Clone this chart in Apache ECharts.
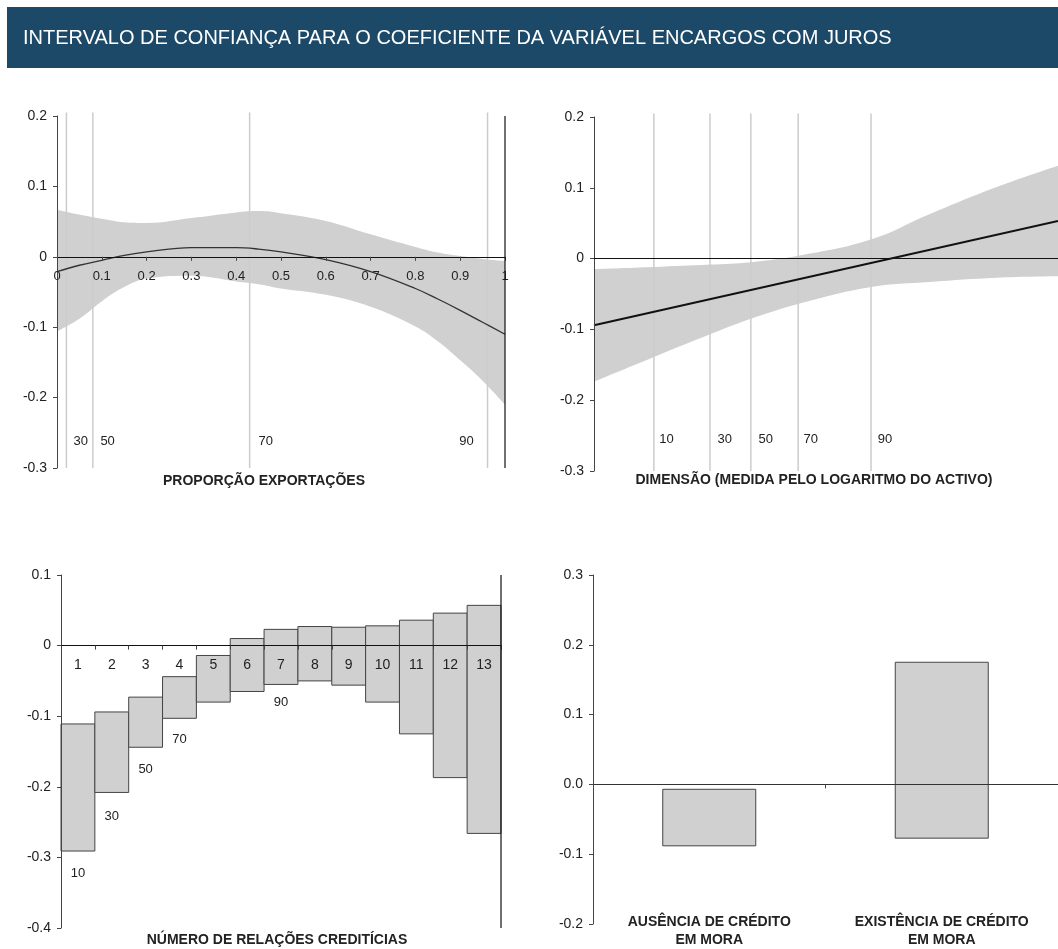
<!DOCTYPE html>
<html>
<head>
<meta charset="utf-8">
<script src="https://cdn.jsdelivr.net/npm/echarts/dist/echarts.min.js"></script>
<style>
  html, body { margin: 0; padding: 0; background: #fff; }
  #chart { width: 1058px; height: 949px; }
</style>
</head>
<body>
<div id="chart"></div>
<script>
// top-left: proporção exportações
const expX = [0, 0.05, 0.1, 0.15, 0.2, 0.3, 0.4, 0.45, 0.5, 0.6, 0.7, 0.8, 0.85, 0.9, 0.95, 1.0];
const expUpper = [0.067, 0.060, 0.054, 0.049, 0.048, 0.055, 0.063, 0.065, 0.062, 0.051, 0.032, 0.014, 0.006, 0.001, -0.003, -0.006];
const expLower = [-0.106, -0.088, -0.063, -0.043, -0.031, -0.027, -0.035, -0.039, -0.045, -0.054, -0.071, -0.099, -0.120, -0.147, -0.176, -0.210];
const expCoef = [-0.021, -0.012, -0.005, 0.002, 0.007, 0.013, 0.013, 0.011, 0.007, -0.004, -0.021, -0.045, -0.060, -0.076, -0.093, -0.110];
const expPctLines = [0.021, 0.08, 0.43, 0.961];
const expPctLabels = ['30', '50', '70', '90'];
const expPctLabelX = [0.053, 0.113, 0.466, 0.914];
const expPctLabelY = -0.262;

// top-right: dimensão
const dimX = [0, 0.129, 0.25, 0.338, 0.44, 0.597, 0.724, 0.868, 1.0];
const dimUpper = [-0.015, -0.012, -0.0085, -0.005, 0.004, 0.027, 0.063, 0.101, 0.131];
const dimLower = [-0.174, -0.139, -0.107, -0.085, -0.064, -0.040, -0.033, -0.027, -0.025];
const dimLineX = [0, 1];
const dimCoef = [-0.094, 0.053];
const dimPctLines = [0.129, 0.25, 0.338, 0.44, 0.597];
const dimPctLabels = ['10', '30', '50', '70', '90'];
const dimPctLabelX = [0.156, 0.282, 0.370, 0.467, 0.627];
const dimPctLabelY = -0.256;

// bottom-left: número de relações creditícias
const relCats = ['1', '2', '3', '4', '5', '6', '7', '8', '9', '10', '11', '12', '13'];
const relLow = [-0.291, -0.208, -0.144, -0.103, -0.080, -0.065, -0.055, -0.050, -0.056, -0.080, -0.125, -0.187, -0.266];
const relHigh = [-0.111, -0.094, -0.073, -0.044, -0.014, 0.010, 0.023, 0.027, 0.026, 0.028, 0.036, 0.046, 0.057];
const relPctLabels = ['10', '30', '50', '70', '90'];
const relPctCat = [0, 1, 2, 3, 6];
const relPctY = [-0.322, -0.242, -0.175, -0.1325, -0.080];

// bottom-right: crédito em mora
const moraCats = ['AUSÊNCIA DE CRÉDITO\nEM MORA', 'EXISTÊNCIA DE CRÉDITO\nEM MORA'];
const moraLow = [-0.088, -0.077];
const moraHigh = [-0.007, 0.175];

const FONT = '"Liberation Sans", Arial, sans-serif';
const BAND = '#d0d0d0';
const LINE_GREY = '#cccccc';

const grids = [
  { left: 57, top: 116, width: 448, height: 352 },
  { left: 594, top: 117, width: 464, height: 354 },
  { left: 61, top: 575, width: 440, height: 353 },
  { left: 593, top: 575, width: 465, height: 352 }
];
const yRanges = [[-0.3, 0.2], [-0.3, 0.2], [-0.4, 0.1], [-0.2, 0.3]];

// onZero axes keep their labels at the grid bottom; pull them back up next to the zero line
function zeroLabelMargin(g, gap) {
  const r = yRanges[g];
  return gap - grids[g].height * (0 - r[0]) / (r[1] - r[0]);
}

const chart = echarts.init(document.getElementById('chart'));

function yAxisLeft(grid, fmt) {
  return {
    type: 'value', gridIndex: grid, min: yRanges[grid][0], max: yRanges[grid][1], interval: 0.1,
    axisLine: { show: true, onZero: false, lineStyle: { color: '#444', width: 1 } },
    axisTick: { show: true, length: 4, lineStyle: { color: '#444' } },
    axisLabel: { color: '#222', fontSize: 14, fontFamily: FONT, margin: 10, formatter: fmt },
    splitLine: { show: false },
    z: 5
  };
}

// right-hand frame line of a panel
function frameRight(xIdx, yIdx) {
  return {
    type: 'custom', xAxisIndex: xIdx, yAxisIndex: yIdx, z: 6, silent: true,
    data: [[0, 0]],
    renderItem: function (params) {
      const cs = params.coordSys;
      const x = cs.x + cs.width;
      return { type: 'line', shape: { x1: x, y1: cs.y, x2: x, y2: cs.y + cs.height },
        style: { stroke: '#111', lineWidth: 1.2 } };
    }
  };
}

function vLines(xIdx, yIdx, xs, ymin, ymax) {
  return {
    type: 'custom', xAxisIndex: xIdx, yAxisIndex: yIdx, z: 2, silent: true,
    data: xs.map(x => [x, 0]),
    renderItem: function (params, api) {
      const a = api.coord([api.value(0), ymin]);
      const b = api.coord([api.value(0), ymax]);
      return { type: 'line', shape: { x1: a[0], y1: a[1], x2: b[0], y2: b[1] },
        style: { stroke: LINE_GREY, lineWidth: 1.5 } };
    }
  };
}

function texts(xIdx, yIdx, xs, ys, labels) {
  return {
    type: 'custom', xAxisIndex: xIdx, yAxisIndex: yIdx, z: 6, silent: true,
    data: xs.map((x, i) => [x, Array.isArray(ys) ? ys[i] : ys]),
    renderItem: function (params, api) {
      const p = api.coord([api.value(0), api.value(1)]);
      return { type: 'text', x: p[0], y: p[1],
        style: { text: labels[params.dataIndex], fill: '#222', fontSize: 13, fontFamily: FONT,
          align: 'center', verticalAlign: 'middle' } };
    }
  };
}

// confidence band: grey area up to the upper bound, white area up to the lower bound
function band(xIdx, yIdx, xs, lo, hi) {
  return [
    {
      type: 'line', xAxisIndex: xIdx, yAxisIndex: yIdx,
      smooth: 0.4, symbol: 'none', silent: true, z: 1,
      lineStyle: { width: 0, opacity: 0 },
      areaStyle: { color: BAND, opacity: 1, origin: 'start' },
      data: xs.map((x, i) => [x, hi[i]])
    },
    {
      type: 'line', xAxisIndex: xIdx, yAxisIndex: yIdx,
      smooth: 0.4, symbol: 'none', silent: true, z: 1,
      lineStyle: { width: 0, opacity: 0 },
      areaStyle: { color: '#ffffff', opacity: 1, origin: 'start' },
      data: xs.map((x, i) => [x, lo[i]])
    }
  ];
}

function floatBars(xIdx, yIdx, lo, hi, widthRatio) {
  return {
    type: 'custom', xAxisIndex: xIdx, yAxisIndex: yIdx, z: 2,
    data: lo.map((v, i) => [i, v, hi[i]]),
    renderItem: function (params, api) {
      const top = api.coord([api.value(0), api.value(2)]);
      const bot = api.coord([api.value(0), api.value(1)]);
      const w = api.size([1, 0])[0] * widthRatio;
      return { type: 'rect', shape: { x: top[0] - w / 2, y: top[1], width: w, height: bot[1] - top[1] },
        style: { fill: BAND, stroke: '#444', lineWidth: 1 } };
    }
  };
}

const nameStyle = { fill: '#222', fontSize: 14, fontWeight: 'bold', fontFamily: FONT, textAlign: 'center', textVerticalAlign: 'middle' };

const option = {
  animation: false,
  backgroundColor: '#fff',
  graphic: [
    { type: 'rect', shape: { x: 7, y: 7, width: 1051, height: 61 }, style: { fill: '#1c4967' } },
    { type: 'text', x: 23, y: 38, style: { text: 'INTERVALO DE CONFIANÇA PARA O COEFICIENTE DA VARIÁVEL ENCARGOS COM JUROS',
      fill: '#ffffff', fontSize: 20, fontFamily: FONT, textVerticalAlign: 'middle' } },
    { type: 'text', x: 264, y: 481, style: Object.assign({ text: 'PROPORÇÃO EXPORTAÇÕES' }, nameStyle) },
    { type: 'text', x: 814, y: 480, style: Object.assign({ text: 'DIMENSÃO (MEDIDA PELO LOGARITMO DO ACTIVO)' }, nameStyle) },
    { type: 'text', x: 277, y: 940, style: Object.assign({ text: 'NÚMERO DE RELAÇÕES CREDITÍCIAS' }, nameStyle) }
  ],
  grid: grids,
  xAxis: [
    {
      type: 'value', gridIndex: 0, min: 0, max: 1, interval: 0.1,
      axisLine: { onZero: true, lineStyle: { color: '#111', width: 1.2 } },
      axisTick: { show: true, length: 4, lineStyle: { color: '#444' } },
      axisLabel: { color: '#222', fontSize: 13, fontFamily: FONT, margin: zeroLabelMargin(0, 13) },
      splitLine: { show: false }, z: 5
    },
    {
      type: 'value', gridIndex: 1, min: 0, max: 1,
      axisLine: { onZero: true, lineStyle: { color: '#111', width: 1.2 } },
      axisTick: { show: false }, axisLabel: { show: false }, splitLine: { show: false }, z: 5
    },
    {
      type: 'category', gridIndex: 2, data: relCats, boundaryGap: true,
      axisLine: { onZero: true, lineStyle: { color: '#111', width: 1.2 } },
      axisTick: { show: true, length: 4, lineStyle: { color: '#444' } },
      axisLabel: { color: '#222', fontSize: 14, fontFamily: FONT, margin: zeroLabelMargin(2, 13) },
      z: 5
    },
    {
      type: 'category', gridIndex: 3, data: moraCats, boundaryGap: true,
      axisLine: { onZero: true, lineStyle: { color: '#333', width: 1 } },
      axisTick: { show: true, length: 4, lineStyle: { color: '#444' } },
      axisLabel: { show: false }, z: 5
    },
    {
      type: 'category', gridIndex: 3, data: moraCats, boundaryGap: true, position: 'bottom',
      axisLine: { show: false, onZero: false }, axisTick: { show: false },
      axisLabel: { color: '#222', fontSize: 14, fontWeight: 'bold', fontFamily: FONT, margin: -11, lineHeight: 18 },
      z: 5
    }
  ],
  yAxis: [
    yAxisLeft(0),
    yAxisLeft(1),
    yAxisLeft(2),
    yAxisLeft(3, v => v.toFixed(1))
  ],
  series: [
    ...band(0, 0, expX, expLower, expUpper),
    vLines(0, 0, expPctLines, -0.3, 0.205),
    {
      type: 'line', xAxisIndex: 0, yAxisIndex: 0, smooth: 0.4, symbol: 'none', z: 3,
      lineStyle: { color: '#333', width: 1.3 },
      data: expX.map((x, i) => [x, expCoef[i]])
    },
    texts(0, 0, expPctLabelX, expPctLabelY, expPctLabels),
    frameRight(0, 0),

    ...band(1, 1, dimX, dimLower, dimUpper),
    vLines(1, 1, dimPctLines, -0.3, 0.205),
    {
      type: 'line', xAxisIndex: 1, yAxisIndex: 1, symbol: 'none', z: 3,
      lineStyle: { color: '#111', width: 2 },
      data: dimLineX.map((x, i) => [x, dimCoef[i]])
    },
    texts(1, 1, dimPctLabelX, dimPctLabelY, dimPctLabels),

    floatBars(2, 2, relLow, relHigh, 1),
    texts(2, 2, relPctCat, relPctY, relPctLabels),
    frameRight(2, 2),

    floatBars(3, 3, moraLow, moraHigh, 0.4)
  ]
};

chart.setOption(option);
</script>
</body>
</html>
